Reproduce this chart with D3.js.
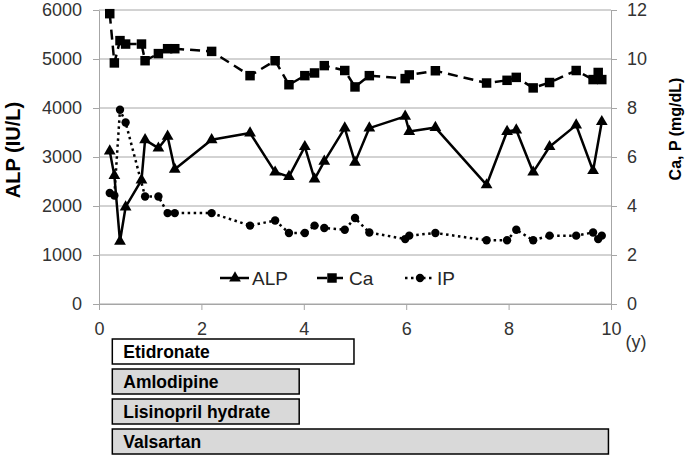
<!DOCTYPE html>
<html>
<head>
<meta charset="utf-8">
<script src="https://cdn.jsdelivr.net/npm/d3@7"></script>
<style>
body { margin: 0; background: #fff; }
text { font-family: "Liberation Sans", Arial, sans-serif; }
</style>
</head>
<body>
<script>
// sampling times (years); a null means the value was not measured then
const years = [0.21, 0.30, 0.41, 0.52, 0.83, 0.90, 1.16, 1.34, 1.48, 2.20, 2.95,
    3.44, 3.71, 4.02, 4.21, 4.40, 4.80, 5.00, 5.28, 5.98, 6.06, 6.57,
    7.57, 7.97, 8.15, 8.48, 8.80, 9.32, 9.65, 9.75, 9.82];
const alp = [3120, 2620, 1280, 1980, 2530, 3350, 3180, 3420, 2750, 3350, 3490,
    2690, 2600, 3210, 2550, 2910, 3590, 2890, 3590, 3830, 3520, 3600,
    2430, 3520, 3550, 2690, 3210, 3650, 2720, null, 3720];
const ca = [11.85, 9.84, 10.75, 10.61, 10.61, 9.93, 10.22, 10.42, 10.42, 10.31, 9.32,
    9.93, 8.95, 9.32, 9.43, 9.73, 9.53, 8.86, 9.32, 9.20, 9.35, 9.52,
    9.02, 9.13, 9.25, 8.82, 9.04, 9.53, 9.16, 9.45, 9.16];
const ip = [4.53, 4.43, 7.93, 7.41, null, 4.39, 4.39, 3.71, 3.71, 3.71, 3.20,
    3.41, 2.90, 2.90, 3.20, 3.10, 3.03, 3.51, 2.92, 2.65, 2.79, 2.90,
    2.60, 2.60, 3.03, 2.60, 2.79, 2.79, 2.92, 2.65, 2.79];

const drugNames = ['Etidronate', 'Amlodipine', 'Lisinopril hydrate', 'Valsartan'];
const drugStart = [0.26, 0.26, 0.26, 0.26];
const drugEnd = [4.98, 3.91, 3.91, 9.95];

const xTicks = [0, 2, 4, 6, 8, 10];
const alpTicks = [0, 1000, 2000, 3000, 4000, 5000, 6000];
const mineralTicks = [0, 2, 4, 6, 8, 10, 12];

const width = 689;
const height = 457;
const plotLeft = 99, plotRight = 611, plotTop = 10, plotBottom = 304;

const svg = d3.select('body')
    .append('svg')
    .attr('width', width)
    .attr('height', height);

const x = d3.scaleLinear().domain([0, 10]).range([plotLeft, plotRight]);
const yAlp = d3.scaleLinear().domain([0, 6000]).range([plotBottom, plotTop]);
const yMin = d3.scaleLinear().domain([0, 12]).range([plotBottom, plotTop]);

const gridColor = '#a6a6a6';
const labelColor = '#333';

// horizontal gridlines
svg.append('g')
    .selectAll('line')
    .data(alpTicks)
    .enter()
    .append('line')
    .attr('x1', plotLeft)
    .attr('x2', plotRight)
    .attr('y1', d => yAlp(d))
    .attr('y2', d => yAlp(d))
    .attr('stroke', gridColor)
    .attr('stroke-width', 1);

function styleAxis(g) {
    g.select('.domain').attr('stroke', gridColor).attr('fill', 'none');
    g.selectAll('.tick line').attr('stroke', gridColor);
    g.selectAll('.tick text')
        .attr('fill', labelColor)
        .style('font-size', '18px');
}

svg.append('g')
    .attr('transform', `translate(${plotLeft}, 0)`)
    .call(d3.axisLeft(yAlp).tickValues(alpTicks).tickFormat(d3.format('d'))
        .tickSize(6).tickSizeOuter(0).tickPadding(11))
    .call(styleAxis);

svg.append('g')
    .attr('transform', `translate(${plotRight}, 0)`)
    .call(d3.axisRight(yMin).tickValues(mineralTicks).tickFormat(d3.format('d'))
        .tickSize(6).tickSizeOuter(0).tickPadding(10))
    .call(styleAxis);

svg.append('g')
    .attr('transform', `translate(0, ${plotBottom})`)
    .call(d3.axisBottom(x).tickValues(xTicks).tickFormat(d3.format('d'))
        .tickSize(6).tickSizeOuter(0).tickPadding(12))
    .call(styleAxis);

svg.append('text')
    .attr('x', 636)
    .attr('y', 348)
    .attr('text-anchor', 'middle')
    .attr('fill', labelColor)
    .style('font-size', '18px')
    .text('(y)');

// axis titles
svg.append('text')
    .attr('transform', 'translate(13, 150) rotate(-90)')
    .attr('text-anchor', 'middle')
    .attr('dy', '0.35em')
    .style('font-size', '20px')
    .style('font-weight', 'bold')
    .text('ALP (IU/L)');

svg.append('text')
    .attr('transform', 'translate(675, 129) rotate(-90)')
    .attr('text-anchor', 'middle')
    .attr('dy', '0.35em')
    .style('font-size', '16px')
    .style('font-weight', 'bold')
    .text('Ca, P (mg/dL)');

// series
const series = [
    { name: 'ALP', values: alp, y: yAlp, dash: null, symbol: d3.symbolTriangle, size: 60 },
    { name: 'Ca', values: ca, y: yMin, dash: '10,6', symbol: d3.symbolSquare, size: 90 },
    { name: 'IP', values: ip, y: yMin, dash: '2.5,3.5', symbol: d3.symbolCircle, size: 55 },
];

series.forEach(s => {
    const pts = years.map((t, i) => [t, s.values[i]]).filter(d => d[1] != null);
    const line = d3.line()
        .x(d => x(d[0]))
        .y(d => s.y(d[1]));
    svg.append('path')
        .datum(pts)
        .attr('d', line)
        .attr('fill', 'none')
        .attr('stroke', '#000')
        .attr('stroke-width', 2.5)
        .attr('stroke-linejoin', 'round')
        .attr('stroke-dasharray', s.dash);
    svg.append('g')
        .selectAll('path')
        .data(pts)
        .enter()
        .append('path')
        .attr('transform', d => `translate(${x(d[0])}, ${s.y(d[1])})`)
        .attr('d', d3.symbol(s.symbol, s.size))
        .attr('fill', '#000');
});

// legend
const legendY = 278;
const legendX = [235, 332, 420];
series.forEach((s, i) => {
    const g = svg.append('g').attr('transform', `translate(${legendX[i]}, ${legendY})`);
    g.append('line')
        .attr('x1', -15)
        .attr('x2', 14)
        .attr('stroke', '#000')
        .attr('stroke-width', 2.5)
        .attr('stroke-dasharray', s.dash);
    g.append('path')
        .attr('d', d3.symbol(s.symbol, s.size))
        .attr('fill', '#000');
    g.append('text')
        .attr('x', 17)
        .attr('dy', '0.36em')
        .attr('fill', '#262626')
        .style('font-size', '19px')
        .text(s.name);
});

// drug periods
const rows = d3.scaleBand()
    .domain(drugNames)
    .range([339, 454])
    .paddingInner(1 / 6)
    .paddingOuter(0);

const drugs = drugNames.map((name, i) => ({ name, start: drugStart[i], end: drugEnd[i] }));

svg.append('g')
    .selectAll('rect')
    .data(drugs)
    .enter()
    .append('rect')
    .attr('x', d => x(d.start))
    .attr('y', d => rows(d.name))
    .attr('width', d => x(d.end) - x(d.start))
    .attr('height', rows.bandwidth())
    .attr('fill', (d, i) => i === 0 ? '#fff' : '#d9d9d9')
    .attr('stroke', '#000')
    .attr('stroke-width', 1.5);

svg.append('g')
    .selectAll('text')
    .data(drugs)
    .enter()
    .append('text')
    .attr('x', d => x(d.start) + 11)
    .attr('y', d => rows(d.name) + rows.bandwidth() / 2)
    .attr('dy', '0.36em')
    .style('font-size', '17.5px')
    .style('font-weight', 'bold')
    .text(d => d.name);
</script>
</body>
</html>
